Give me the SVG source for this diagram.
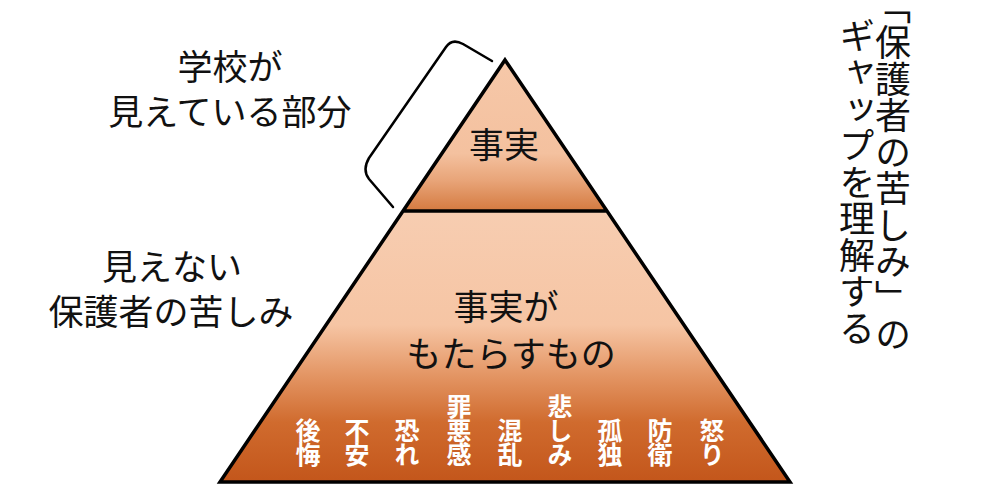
<svg xmlns="http://www.w3.org/2000/svg" width="1000" height="494" viewBox="0 0 1000 494">
<style>
.t{font-family:"Noto Sans CJK JP","Noto Sans",sans-serif;fill:#111;font-size:35px}
.m{text-anchor:middle}
.v{font-family:"Noto Sans CJK JP","Noto Sans",sans-serif;fill:#111;font-size:36px;writing-mode:vertical-rl;letter-spacing:0.5px}
.h{font-feature-settings:"vhal" 1}
.w{font-family:"Noto Sans CJK JP","Noto Sans",sans-serif;fill:#fff;font-size:25px;font-weight:bold;writing-mode:vertical-rl;letter-spacing:-1px}
.ln{fill:none;stroke:#000;stroke-width:3.5;stroke-linejoin:miter}
</style>
<defs>
<linearGradient id="gTop" gradientUnits="userSpaceOnUse" x1="0" y1="60" x2="0" y2="211">
<stop offset="0" stop-color="#f6c8a9"/>
<stop offset="0.62" stop-color="#f4c19f"/>
<stop offset="0.8" stop-color="#e8a478"/>
<stop offset="1" stop-color="#d47a40"/>
</linearGradient>
<linearGradient id="gBot" gradientUnits="userSpaceOnUse" x1="0" y1="211" x2="0" y2="482">
<stop offset="0" stop-color="#f7cdb1"/>
<stop offset="0.42" stop-color="#f6c5a4"/>
<stop offset="0.6" stop-color="#e49766"/>
<stop offset="0.78" stop-color="#d06b2e"/>
<stop offset="1" stop-color="#c3561b"/>
</linearGradient>
</defs>
<rect width="1000" height="494" fill="#fff"/>
<g id="pyramid">
<g id="top">
<polygon points="505,60 403,211 607,211" fill="url(#gTop)"/>
<text class="t m" x="504" y="158">事実</text>
</g>
<g id="bottom">
<polygon points="403,211 607,211 790,482 220,482" fill="url(#gBot)"/>
<text class="t m" x="506" y="320">事実が</text>
<text class="t m" x="511" y="367">もたらすもの</text>
<g id="emotions">
<text class="w" x="308" y="418">後悔</text>
<text class="w" x="357" y="418">不安</text>
<text class="w" x="407" y="418">恐れ</text>
<text class="w" x="459" y="394">罪悪感</text>
<text class="w" x="510" y="418">混乱</text>
<text class="w" x="560" y="394">悲しみ</text>
<text class="w" x="610" y="418">孤独</text>
<text class="w" x="660" y="418">防衛</text>
<text class="w" x="712" y="418">怒り</text>
</g>
</g>
<path class="ln" d="M505,60 L790,482 L220,482 Z M403,211 L607,211"/>
</g>
<g id="connectors">
<path d="M492,61 L463,44 Q452,38 446,47 L369,158 Q362,170 369,179 L393,207" fill="none" stroke="#000" stroke-width="2.5" stroke-linecap="round" stroke-linejoin="round"/>
</g>
<g id="label-visible">
<text class="t m" x="230" y="80">学校が</text>
<text class="t m" x="230" y="125">見えている部分</text>
</g>
<g id="label-invisible">
<text class="t m" x="172" y="280">見えない</text>
<text class="t m" x="171" y="325">保護者の苦しみ</text>
</g>
<g id="label-gap">
<text class="v" x="893" y="6"><tspan class="h">「</tspan>保護者の苦しみ」の</text>
<text class="v" x="857" y="18">ギャップを理解する</text>
</g>
</svg>
